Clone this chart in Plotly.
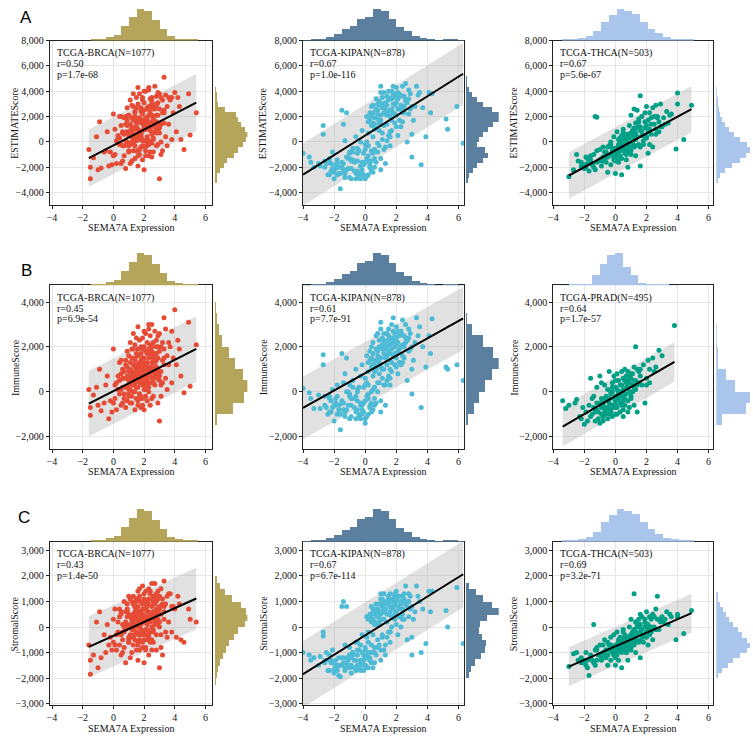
import plotly.graph_objects as go

W, H = 753, 741

# ---- SEMA7A expression per cohort (shared by the score rows) ----
brca_x = [-1.6, -1.5, -1.5, -1.3, -1.1, -0.9, -0.8, -0.6, -0.5, -0.3,
          -0.2, 0.0, 0.1, 0.2, 0.3, 0.4, 0.5, 0.5, 0.6, 0.7,
          0.7, 0.8, 0.8, 0.9, 0.9, 1.0, 1.0, 1.1, 1.1, 1.2,
          1.2, 1.2, 1.3, 1.3, 1.3, 1.4, 1.4, 1.4, 1.5, 1.5,
          1.5, 1.6, 1.6, 1.6, 1.7, 1.7, 1.7, 1.8, 1.8, 1.8,
          1.8, 1.9, 1.9, 1.9, 2.0, 2.0, 2.0, 2.0, 2.1, 2.1,
          2.1, 2.2, 2.2, 2.2, 2.3, 2.3, 2.3, 2.4, 2.4, 2.4,
          2.5, 2.5, 2.5, 2.6, 2.6, 2.7, 2.7, 2.8, 2.8, 2.9,
          2.9, 3.0, 3.0, 3.1, 3.2, 3.3, 3.3, 3.4, 3.5, 3.6,
          3.7, 3.8, 3.9, 4.0, 4.2, 4.4, 4.6, 4.9, 5.0, 5.4,
          0.3, 0.6, 0.9, 1.1, 1.3, 1.5, 1.6, 1.8, 1.9, 2.0,
          2.1, 2.2, 2.3, 2.5, 2.6, 2.8, 3.0, 3.2, 3.5, 4.1,
          0.0, 0.4, 1.0, 1.4, 1.7, 2.0, 2.4, 2.7, 3.1, 3.8,
          -1.0, 0.2, 0.8, 1.2, 1.6, 1.9, 2.2, 2.6, 2.9, 3.4,
          0.5, 0.7, 0.9, 1.0, 1.2, 1.3, 1.4, 1.5, 1.6, 1.7,
          1.8, 1.9, 2.0, 2.1, 2.2, 2.3, 2.4, 2.5, 2.6, 2.7,
          2.8, 2.9, 3.0, 3.1, 3.2, 0.6, 1.1, 1.5, 2.0, 2.4,
          0.8, 1.2, 1.7, 2.1, 2.5, 2.9, 3.3, 1.4, 1.9, 2.3,
          1.0, 1.3, 1.6, 1.8, 2.0, 2.2, 2.6, 2.8, 3.0, 3.6,
          -0.4, -0.1, 0.1, 0.4, 0.6, 1.1, 1.5, 2.1, 2.7, 4.3,
          1.0, 1.2, 1.4, 1.6, 1.8, 2.0, 2.2, 2.4, 2.6, 2.8,
          1.1, 1.3, 1.5, 1.7, 1.9, 2.1, 2.3, 2.5, 2.7, 3.0,
          0.5, 0.9, 1.3, 1.7, 2.1, 2.5, 2.9, 3.3, 1.5, 2.3,
          0.7, 1.0, 1.4, 1.8, 2.2, 2.6, 3.1, 1.2, 2.0, 2.8]
brca_estimate = [-600, -2000, -2900, -1250, 400, 1600, -2050, -800, -700, -1900,
                 -800, 2200, 1000, -1700, 500, 300, 2000, -1700, -300, 1900,
                 -1100, 1400, -2100, 1300, 2700, -800, 2100, 3300, -200, 400,
                 1900, -1500, 1100, 3800, -700, 1900, -1300, 500, 2700, 100,
                 500, 4300, 1000, -1900, 1900, 1700, -1000, 2500, 600, -400,
                 2400, -300, 3300, 100, 1200, 4000, -2200, 1500, 1700, -700,
                 1800, 2600, -300, 200, 4100, 2100, -1100, 2400, 2800, -800,
                 3500, -100, 3400, 1900, -800, 4400, 1500, -300, 3000, -200,
                 2100, -2900, 3800, 1400, -700, 5100, 2500, 3700, -300, 1400,
                 3300, 200, 2300, 3900, 3500, 200, -600, 3800, 550, 2300,
                 300, 800, 0, 900, 300, -700, 1800, 400, 1700, 100,
                 1000, 2700, 100, 2100, 2800, 700, 1200, 3300, 2800, 800,
                 -1100, -200, 2100, 2400, -600, 1700, 1100, 800, -1000, 3500,
                 -2200, 100, 100, 800, 400, 3500, 1700, 2700, 3900, 400,
                 1300, -300, 1700, -200, 0, 2800, 1000, 1900, -1100, 3800,
                 400, -1400, 3100, 1900, 0, 2800, 1200, -1200, 2700, 800,
                 3600, 1500, 2600, 3500, 2300, 700, -1700, 3500, 2500, 3400,
                 2000, 2900, 800, -1100, 1600, 3100, 1500, 2300, 900, 4300,
                 -700, -100, 3000, 2700, -400, 1300, 200, 2900, 700, 3500,
                 800, -1800, -1000, 2000, -1500, 600, 1500, 4000, 1200, 2800,
                 500, 1200, -300, 1600, 700, 100, 1900, 900, 300, 2100,
                 1400, 200, 1200, 200, 2200, 1000, 1500, 600, 2600, 1100,
                 -200, 800, 1700, -600, 1300, 3100, 900, 2300, 600, -200,
                 600, -300, 2000, 1500, 400, 1900, 0, 800, 1200, 1600]
brca_immune = [100, -700, -1050, -150, 200, 1000, -850, -500, 300, -1200,
               -400, 1900, 300, -800, 700, -100, 1400, -600, 200, 900,
               -300, 1200, -700, 600, 1800, -200, 900, 2200, 100, 500,
               1500, -500, 800, 2600, 0, 1100, -800, 400, 1700, -300,
               700, 2900, 200, -600, 1300, 500, -100, 2000, 900, -700,
               1400, 300, 2400, -300, 1000, 2700, -800, 600, 1800, 100,
               1100, 2200, -400, 700, 3000, 1500, 0, 1000, 2500, -600,
               1800, 400, 3000, 900, -200, 2700, 1300, 600, 2000, -500,
               1500, -1300, 2600, 900, 400, 3300, 1900, 2800, 100, 1200,
               2000, 400, 1500, 3650, 2300, 700, -50, 3100, 250, 2100,
               100, 1000, -400, 1300, 600, 200, 1600, -200, 1200, 400,
               600, 1700, 400, 1300, 2200, 1000, 500, 2200, 1600, 1200,
               -500, 500, 1600, 2100, -300, 1300, 1700, 300, -200, 2700,
               -600, 400, 200, 800, 1000, 1900, 900, 1500, 2500, 600,
               800, -100, 1100, 300, -200, 1900, 700, 1200, -400, 2300,
               500, -600, 2000, 1200, 300, 1900, 800, -300, 1600, 700,
               2300, 1000, 1800, 2000, 1400, 600, -500, 2400, 1500, 2100,
               1400, 1900, 800, -200, 1100, 2000, 1200, 1500, 700, 2800,
               -100, 300, 1900, 1700, 100, 1000, 400, 1700, 700, 2200,
               700, -900, -300, 1300, -500, 600, 1000, 2600, 900, 1900,
               500, 900, 0, 1100, 600, 300, 1300, 700, 400, 1400,
               1000, 300, 900, 400, 1500, 800, 1100, 600, 1700, 900,
               100, 700, 1200, -100, 1000, 2000, 800, 1500, 600, 200,
               600, 100, 1400, 1100, 500, 1300, 300, 700, 900, 1100]
brca_stromal = [-700, -1300, -1850, -1100, 200, 600, -1200, -300, -1000, -700,
                -400, 300, 700, -900, -200, 400, 600, -1100, -500, 1000,
                -800, 200, -1400, 700, 900, -600, 1200, 1100, -300, -100,
                400, -1000, 300, 1200, -700, 800, -500, 100, 1000, 400,
                -200, 1400, 800, -1300, 600, 1200, -900, 500, -300, 300,
                1000, -600, 900, 400, 200, 1300, -1400, 900, -100, -800,
                700, 400, 100, -500, 1100, 600, -1100, 1400, 300, -200,
                1700, -500, 400, 1000, -600, 1700, 200, -900, 1000, 300,
                600, -1600, 1200, 500, -1100, 1800, 600, 900, -400, 200,
                1300, -200, 800, 700, 1200, -500, -600, 700, 300, 200,
                200, -200, 400, -400, -300, -900, 200, 600, 500, -300,
                400, 1000, -300, 800, 600, -300, 700, 1100, 1200, -400,
                -600, -700, 500, 300, -300, 400, -600, 500, -800, 800,
                -1600, -300, -100, 0, -600, 1600, 800, 1200, 1400, -200,
                500, -200, 600, -500, 200, 900, 300, 700, -700, 1500,
                -100, -800, 1100, 700, -300, 900, 400, -900, 1100, 100,
                1300, 500, 800, 1500, 900, 100, -1200, 1100, 1000, 1300,
                600, 1000, 0, -900, 500, 1100, 300, 800, 200, 1500,
                -600, -400, 1100, 1000, -500, 300, -200, 1200, 0, 1300,
                100, -900, -700, 700, -1000, 0, 500, 1400, 300, 900,
                0, 300, -300, 500, 100, -200, 600, 200, -100, 700,
                400, -100, 300, -200, 700, 200, 400, 0, 900, 200,
                -300, 100, 500, -500, 300, 1100, 100, 800, 0, -400,
                0, -400, 600, 400, -100, 600, -300, 100, 300, 500]

kipan_x = [-4.0, -3.6, -3.5, -3.3, -3.0, -2.9, -2.7, -2.7, -2.6, -2.5,
           -2.4, -2.3, -2.2, -2.1, -2.0, -1.9, -1.8, -1.7, -1.6, -1.5,
           -1.4, -1.3, -1.2, -1.1, -1.0, -0.9, -0.8, -0.7, -0.6, -0.5,
           -0.4, -0.3, -0.2, -0.1, 0.0, 0.0, 0.1, 0.1, 0.2, 0.2,
           0.3, 0.3, 0.4, 0.4, 0.5, 0.5, 0.6, 0.6, 0.7, 0.7,
           0.8, 0.8, 0.9, 0.9, 1.0, 1.0, 1.0, 1.1, 1.1, 1.2,
           1.2, 1.3, 1.3, 1.4, 1.4, 1.5, 1.5, 1.6, 1.6, 1.7,
           1.7, 1.8, 1.8, 1.9, 1.9, 2.0, 2.0, 2.1, 2.1, 2.2,
           2.2, 2.3, 2.4, 2.5, 2.6, 2.7, 2.8, 2.9, 3.0, 3.1,
           3.2, 3.3, 3.6, 3.7, 3.9, 4.1, 4.3, 5.2, 5.9, 6.3,
           5.3, 4.2, 3.5, 3.0, 2.8, 2.4, 2.0, 1.6, 1.2, 0.8,
           -2.2, -1.8, -1.4, -1.0, -0.6, -0.2, 0.2, 0.6, 1.0, 1.4,
           -1.7, -1.1, -0.5, -0.1, 0.4, 0.9, 1.3, 1.7, 2.3, 2.7,
           -2.0, -1.3, -0.7, -0.3, 0.1, 0.5, 1.1, 1.5, 1.9, 2.5,
           0.2, 0.4, 0.6, 0.8, 1.0, 1.2, 1.4, 1.6, 1.8, 2.0,
           2.2, 2.4, 2.6, 0.3, 0.7, 1.1, 1.5, 1.9, 2.3, 2.8,
           -2.1, -1.9, -1.6, -1.2, -0.9, -0.6, -0.4, -0.1, 0.2, 0.5,
           -1.8, -1.4, -1.0, -0.8, -0.5, -0.3, 0.0, 0.3, 0.6, 0.9,
           0.5, 0.9, 1.3, 1.7, 2.1, 2.5, 3.0, 3.4, 1.0, 1.8,
           -2.6, -2.3, -1.5, -0.2, 0.1, 0.7, 1.2, 1.6, 2.4, 2.9,
           0.5, 0.8, 1.1, 1.4, 1.7, 2.0, 2.3, 1.0, 1.5, 2.1,
           0.6, 0.9, 1.2, 1.5, 1.8, 2.4, 0.4, 1.3, 1.9, 2.6,
           -1.5, -1.2, -0.9, -0.6, -0.3, 0.0, 0.3, -1.0, -0.4, 0.2,
           -2.3, -1.9, -1.3, -0.8, -0.2, 0.4, -0.5, 0.0, 0.8, 1.6]
kipan_estimate = [-900, -1200, -1600, -2000, -1700, -1900, 1300, 600, -1500, -1700,
                  -2600, -1300, -2300, -800, -2900, -1800, -1400, -2000, -3700, 2500,
                  1400, 100, 2300, -2100, -900, -2900, -500, -1600, 400, -2300,
                  -700, -1900, 900, -2600, -2900, -200, 2000, -1300, 700, -300,
                  2300, -1800, 1300, -700, 2900, 400, 1900, -1300, 3400, 1100,
                  2200, -100, 2900, 900, 3900, 1700, -1300, 2700, 200, 3000,
                  1300, 2200, -400, 3600, 1400, 2300, 500, 3400, 2000, 900,
                  3400, 2300, 4400, 1500, 2900, 4300, 2100, 3400, 500, 2600,
                  1700, 3700, 2500, 2800, 4600, 3100, 2200, 3800, -1200, 1700,
                  2800, 4400, -1800, 2700, 400, 3900, 3800, 1800, 2800, -100,
                  1000, 2300, 3900, 600, 3400, 4400, 1200, -300, 3000, 3000,
                  -1700, -2600, -1700, -800, -2900, -1600, -2600, -600, -2200, 100,
                  -2500, -1300, -500, -900, -2300, 1700, -1700, 4000, 1200, 0,
                  -2400, -2800, -2300, 0, 0, -2400, 700, 4000, 3600, 2300,
                  1600, 2800, 1000, 2500, 2100, 3900, 2900, 2500, 3500, 3100,
                  3700, 2300, 3200, 1800, 2600, 3500, 3400, 2200, 2900, 4100,
                  -2100, -1900, -2500, -1200, -2100, -1500, -2700, -1800, -1500, -900,
                  -1700, -2200, -2800, -800, -1500, -2900, -600, -2000, -2000, -300,
                  1500, 1500, 3100, 1700, 3900, 3600, 2800, 3700, 4400, 3700,
                  -2000, -2600, -1600, -2500, -2700, -1600, -600, 800, 1600, 2600,
                  2300, 1800, 3000, 2100, 2600, 3500, 3600, 1400, 3300, 2600,
                  1400, 3200, 2300, 3500, 3000, 2800, 2000, 2600, 3800, 3300,
                  -2000, -2200, -1500, -2500, -1900, -1600, -2000, -1300, -2500, -1100,
                  -1600, -2100, -2500, -1400, -2200, -1500, -900, -2700, -800, 400]
kipan_immune = [150, -50, -300, -750, -150, -750, 1650, 1200, -200, -700,
                -1000, -200, -900, 100, -1300, -500, 300, -800, -1700, 1700,
                400, 800, 1500, -600, -100, -1100, 500, -300, 1000, -800,
                200, -500, 1200, -900, -1400, 600, 1600, -200, 900, 300,
                1800, -600, 1100, 0, 2200, 700, 1400, -300, 2500, 1000,
                1600, 400, 2000, 800, 2800, 1200, -400, 1900, 600, 2300,
                1000, 1500, 300, 2600, 1200, 1800, 700, 2100, 1400, 900,
                2400, 1600, 3300, 1200, 2000, 2900, 1500, 2200, 800, 1900,
                1300, 2700, 2000, 1500, 3000, 2300, 1800, 2600, -100, 1400,
                2200, 3300, -700, 2000, 1100, 2500, 3250, 1100, 1200, 500,
                1000, 1700, 2900, 1000, 2400, 3200, 1100, 300, 2000, 2600,
                -400, -1000, -500, 300, -1200, -600, -1000, 200, -900, 500,
                -600, 0, 100, 200, -900, 1500, -600, 3000, 1200, 500,
                -600, -1100, -700, 700, 400, -800, 1000, 2800, 2300, 2000,
                1300, 2000, 900, 1800, 1500, 2600, 2000, 1700, 2400, 2100,
                2500, 1600, 2200, 1400, 1900, 2400, 2300, 1700, 2000, 2800,
                -700, -300, -1000, 0, -600, -200, -1100, -500, -300, 100,
                -200, -800, -1200, 200, -400, -1200, 300, -700, -600, 400,
                1200, 1300, 2200, 1300, 2700, 2500, 2000, 2500, 3100, 2700,
                -600, -900, -400, -1000, -1100, -500, 300, 1000, 1300, 1900,
                1700, 1400, 2100, 1600, 1900, 2400, 2600, 1100, 2300, 1800,
                1200, 2300, 1700, 2500, 2200, 2100, 1500, 1900, 2600, 2400,
                -500, -800, -300, -900, -600, -400, -700, -200, -1000, -100,
                -300, -600, -900, -300, -800, -500, 0, -1200, 0, 600]
kipan_stromal = [-1000, -1100, -1300, -1200, -1500, -1150, -350, -200, -1300, -1000,
                 -1700, -1100, -1400, -900, -1650, -1300, -1700, -1200, -1950, 800,
                 1000, -700, 800, -1500, -800, -1800, -1000, -1300, -600, -1500,
                 -900, -1400, -300, -1700, -1500, -800, 400, -1100, -200, -600,
                 500, -1200, 200, -700, 700, -300, 500, -1000, 900, 100,
                 600, -500, 900, 100, 1100, 500, -900, 800, -400, 700,
                 300, 700, -700, 1000, 200, 500, -200, 1300, 600, 0,
                 1000, 700, 1100, 300, 900, 1400, 600, 1200, -300, 700,
                 400, 1000, 500, 1300, 1600, 800, 400, 1200, -1100, 300,
                 600, 1600, -1000, 700, -650, 1400, 1400, 650, 1550, -650,
                 0, 600, 1000, -400, 1000, 1200, 100, -600, 1000, 400,
                 -1300, -1600, -1200, -1100, -1700, -1000, -1600, -800, -1300, -400,
                 -1900, -1300, -600, -1100, -1400, 200, -1100, 1000, 0, -500,
                 -1800, -1700, -1600, -700, -400, -1600, -300, 1200, 1300, 300,
                 300, 800, 100, 700, 600, 1300, 900, 800, 1100, 1000,
                 1200, 700, 1000, 400, 700, 1100, 1100, 500, 900, 1300,
                 -1400, -1600, -1500, -1200, -1500, -1300, -1600, -1300, -1200, -1000,
                 -1500, -1400, -1600, -1000, -1100, -1700, -900, -1300, -1400, -700,
                 300, 200, 900, 400, 1200, 1100, 800, 1200, 1300, 1000,
                 -1400, -1700, -1200, -1500, -1600, -1100, -900, -200, 300, 700,
                 600, 400, 900, 500, 700, 1100, 1000, 300, 1000, 800,
                 200, 900, 600, 1000, 800, 700, 500, 700, 1200, 900,
                 -1500, -1400, -1200, -1600, -1300, -1200, -1300, -1100, -1500, -1000,
                 -1300, -1500, -1600, -1100, -1400, -1000, -900, -1500, -800, -200]

thca_x = [-3.0, -2.7, -2.5, -2.4, -2.2, -2.0, -1.9, -1.8, -1.7, -1.6,
          -1.5, -1.4, -1.3, -1.3, -1.2, -1.1, -1.0, -0.9, -0.8, -0.7,
          -0.6, -0.5, -0.5, -0.4, -0.3, -0.3, -0.2, -0.1, -0.1, 0.0,
          0.0, 0.1, 0.1, 0.2, 0.2, 0.3, 0.3, 0.4, 0.4, 0.5,
          0.5, 0.6, 0.6, 0.7, 0.7, 0.8, 0.8, 0.9, 0.9, 1.0,
          1.0, 1.1, 1.1, 1.2, 1.2, 1.3, 1.3, 1.4, 1.4, 1.5,
          1.5, 1.6, 1.6, 1.7, 1.7, 1.8, 1.9, 2.0, 2.0, 2.1,
          2.1, 2.2, 2.3, 2.4, 2.5, 2.6, 2.7, 2.8, 2.9, 3.0,
          3.1, 3.2, 3.4, 3.6, 3.9, 4.0, 4.0, 4.4, 4.9, 2.4,
          -0.8, -0.2, 0.3, 0.7, 1.0, 1.3, 1.6, 1.9, 2.2, 2.6,
          -1.0, -0.6, -0.3, 0.0, 0.2, 0.4, 0.6, 0.8, 1.1, 1.4,
          1.7, 2.0, 2.3, 2.6, -1.6, -1.2, -0.9, -0.4, 0.1, 0.5,
          0.9, 1.2, 1.5, 1.8, 2.1, 2.5, 2.9, 3.3, -2.0, -1.4,
          -0.7, -0.1, 0.3, 0.7, 1.0, 1.3, 1.6, 0.0, 0.6, 1.9,
          -2.2, -1.8, -0.5, 0.2, 0.8, 1.2, 2.2, 2.8, 3.5, 0.4,
          -0.5, -0.2, 0.1, 0.4, 0.7, 1.0, 1.3, 1.6, -0.8, 0.2,
          -1.2, -0.9, -0.4, 0.0, 0.5, 0.9, 1.2, 1.8, 2.3, 0.6,
          -1.9, -1.5, -0.6, -0.1, 0.3, 0.8, 1.1, 1.5, 2.0, 2.7]
thca_estimate = [-2750, -2200, -1000, -1500, -1900, -2100, -1200, -1700, -2300, -1400,
                 -1800, -1000, 2000, -2200, 1950, -1500, -600, -1900, -1200, -800,
                 -1600, -400, -2400, -1100, 0, -1800, -700, 400, -1300, -500,
                 -2500, 800, -900, -300, -1600, 300, -1100, -2600, 500, -400,
                 1000, -600, 200, -1400, 600, -100, -2000, 1300, 300, -700,
                 2100, 0, 900, 2600, -400, 1500, -1100, 400, 2500, -200,
                 1200, 3650, -1900, 800, 2000, 100, 1600, 2800, 400, -900,
                 1700, 2300, 600, 2700, 1400, 2900, 2000, 800, 3000, 1200,
                 1900, 1400, 1500, 2200, -550, 3850, 3000, 200, 2900, -400,
                 -400, -1000, -700, 100, -1000, 700, -400, 1100, -200, 1000,
                 -1400, -900, -200, -1100, 200, -600, 400, -300, 600, 1100,
                 500, 1300, 1900, 600, -1100, -700, -1500, -300, -1400, 700,
                 -800, 1100, 1800, -200, 800, 2000, 1200, 2400, -1800, -2000,
                 -1300, -800, 0, -1000, 700, -300, 1200, -1500, -100, 2300,
                 -1600, -1300, -1200, -700, 600, 300, 1000, 1600, 2100, -1300,
                 -1200, -500, -1000, 100, -800, 600, 200, 900, -1500, -200,
                 -1600, -1300, -300, -900, -100, -600, 800, 500, 1400, -900,
                 -2000, -1700, -800, -1400, -300, 300, -300, 1600, 300, 1900]
thca_stromal = [-1550, -1050, -1000, -1300, -1200, -1400, -1000, -1600, -1900, -1100,
                -1300, 100, -900, -1500, -800, -1100, -700, -1300, -1000, -500,
                -1200, -600, -1500, -900, -400, -1300, -800, -300, -1100, -700,
                -1500, -200, -1000, -600, -1300, -400, -900, -1600, -500, -800,
                -100, -700, -300, -1000, -500, -600, -1300, 0, -400, -800,
                300, -500, -200, 1300, -700, 200, -1000, -300, 100, -600,
                0, 500, -1200, -100, 400, -300, 200, 600, -200, -700,
                100, 400, -200, 500, 0, 700, 1200, -100, 300, 400,
                200, 300, 100, 400, -500, 500, 400, -250, 650, -500,
                -700, -1000, -800, -400, -900, -200, -500, 0, -300, -100,
                -1100, -900, -700, -1000, -500, -800, -400, -600, -300, 0,
                -300, 100, 300, -100, -1200, -900, -1200, -700, -1100, -200,
                -900, -100, 300, -600, -100, 400, 200, 600, -1300, -1400,
                -1100, -900, -600, -1000, -300, -600, 100, -1200, -700, 300,
                -1400, -1300, -1100, -800, -400, -400, -100, 300, 500, -1000,
                -1100, -800, -900, -600, -800, -300, -500, -200, -1200, -700,
                -1300, -1100, -700, -900, -600, -700, -200, -400, 0, -900,
                -1500, -1300, -900, -1100, -600, -400, -600, 100, -400, 300]

prad_x = [-3.4, -3.2, -3.0, -2.6, -2.5, -2.3, -2.1, -2.0, -1.9, -1.8,
          -1.7, -1.6, -1.5, -1.4, -1.3, -1.2, -1.2, -1.1, -1.0, -1.0,
          -0.9, -0.8, -0.8, -0.7, -0.6, -0.6, -0.5, -0.5, -0.4, -0.4,
          -0.3, -0.3, -0.2, -0.2, -0.1, -0.1, 0.0, 0.0, 0.0, 0.1,
          0.1, 0.2, 0.2, 0.3, 0.3, 0.4, 0.4, 0.5, 0.5, 0.6,
          0.6, 0.7, 0.7, 0.8, 0.8, 0.9, 0.9, 1.0, 1.0, 1.1,
          1.1, 1.2, 1.2, 1.3, 1.3, 1.4, 1.4, 1.5, 1.6, 1.8,
          1.9, 2.0, 2.1, 2.2, 2.4, 2.6, 2.8, 3.0, 3.8, 2.2,
          -0.7, -0.2, 0.3, 0.6, 0.9, 1.2, -1.5, -0.9, 0.5, 1.7,
          -1.3, -0.9, -0.6, -0.3, -0.1, 0.2, 0.4, 0.7, 1.0, 1.3,
          -1.1, -0.7, -0.4, 0.0, 0.3, 0.6, 0.9, 1.2, 1.5, -0.2,
          -1.6, -1.2, -0.8, -0.5, -0.2, 0.1, 0.4, 0.8, 1.1, 1.4,
          -2.2, -1.4, -0.9, -0.4, 0.0, 0.5, 0.8, 1.6, 2.0, 2.5,
          -1.0, -0.7, -0.4, -0.1, 0.2, 0.5, 0.8, 1.1, -0.5, 0.3,
          -1.3, -0.8, -0.3, 0.1, 0.4, 0.7, 1.0, -0.6, 0.0, 0.6]
prad_immune = [-400, -750, -600, -500, -350, -1100, -700, -1450, -900, -1300,
               -600, 600, -1000, -700, -1300, 200, -500, -900, -1400, 700,
               -300, -1100, -600, 300, -800, -200, -1200, 100, -500, 900,
               -900, -100, 400, -600, -300, 700, -1000, 200, -400, 800,
               -700, 0, 500, -500, 300, -200, 900, -800, 100, 500,
               -300, 200, 700, -400, 900, 0, 400, 600, -200, 300,
               800, -600, 500, 2000, 100, 1000, -900, 400, 700, 1200,
               -500, 600, 1400, 400, 1500, 1100, 1850, 1600, 2950, 1000,
               -700, 0, -900, 1000, -700, 1100, -300, 400, -1100, 300,
               -800, -1000, -400, 0, -700, -300, 300, -100, 800, 500,
               -1200, -300, -800, -600, 0, -600, 700, 200, 900, -1100,
               -1100, -800, -1300, -700, 200, -1000, -500, 500, 0, 300,
               -1200, -200, -700, -1000, 500, 600, -900, 1000, 300, 900,
               -500, -900, -300, -600, -100, -400, 200, 0, -700, -500,
               -900, -500, -800, 100, -600, 400, -300, -1000, -200, -100]

# ---- marginal histograms: (bin start, bin width) and bar heights ----
brca_xbins, brca_xcounts = (-1.5, 0.5), [2, 4, 10, 15, 42, 68, 93, 88, 62, 35, 14, 6, 3, 2]
kipan_xbins, kipan_xcounts = (-4.0, 0.5), [1, 2, 5, 10, 18, 33, 42, 65, 70, 93, 88, 65, 40, 27, 13, 7, 2, 0.5, 2, 2, 1]
thca_xbins, thca_xcounts = (-3.4, 0.5), [2, 3, 8, 14, 28, 55, 75, 93, 88, 78, 55, 35, 22, 10, 6, 3, 2]
prad_xbins, prad_xcounts = (-3.5, 0.5), [1, 2, 4, 6, 31, 63, 90, 96, 56, 31, 8, 4, 3, 2, 1]

brca_est_bins, brca_est_counts = (-3200, 400), [3, 7, 14, 26, 35, 55, 68, 82, 90, 95, 86, 76, 66, 60, 30, 10, 6, 3, 1]
kipan_est_bins, kipan_est_counts = (-3200, 400), [6, 10, 20, 33, 52, 68, 58, 33, 40, 53, 68, 83, 100, 100, 78, 53, 35, 18, 8, 3, 1]
thca_est_bins, thca_est_counts = (-3200, 400), [5, 12, 28, 48, 72, 90, 100, 92, 70, 52, 38, 26, 18, 12, 8, 5, 3, 2, 1]
brca_imm_bins, brca_imm_counts = (-1500, 500), [4, 52, 85, 97, 82, 58, 40, 22, 12, 5, 2]
kipan_imm_bins, kipan_imm_counts = (-1500, 500), [4, 25, 40, 58, 78, 100, 82, 52, 18, 3]
prad_imm_bins, prad_imm_counts = (-1500, 500), [18, 88, 98, 55, 28, 5, 3, 1, 1]
brca_str_bins, brca_str_counts = (-2250, 250), [2, 4, 8, 14, 22, 32, 42, 55, 68, 88, 95, 90, 75, 50, 30, 15, 5]
kipan_str_bins, kipan_str_counts = (-2000, 250), [8, 14, 28, 46, 57, 60, 48, 40, 42, 62, 98, 78, 52, 30, 10]
thca_str_bins, thca_str_counts = (-2000, 200), [4, 16, 33, 48, 68, 88, 96, 88, 73, 63, 48, 38, 28, 20, 12, 6, 3]

# ---- regression line (x0, x1, y0, y1) and band half width per panel ----
fit_x0 = [-1.6, -4.0, -3.0, -1.6, -4.0, -3.4, -1.6, -4.0, -3.0]
fit_x1 = [5.4, 6.3, 4.9, 5.4, 6.3, 3.8, 5.4, 6.3, 4.9]
fit_y0 = [-1280, -2580, -2650, -530, -720, -1550, -780, -1850, -1550]
fit_y1 = [3100, 5380, 2590, 1910, 3270, 1330, 1115, 2065, 540]
band_half = [2250, 2450, 1830, 1460, 1400, 890, 1200, 1300, 760]

cohort_labels = ["TCGA-BRCA(N=1077)", "TCGA-KIPAN(N=878)", "TCGA-THCA(N=503)",
                 "TCGA-BRCA(N=1077)", "TCGA-KIPAN(N=878)", "TCGA-PRAD(N=495)",
                 "TCGA-BRCA(N=1077)", "TCGA-KIPAN(N=878)", "TCGA-THCA(N=503)"]
r_values = ["0.50", "0.67", "0.67", "0.45", "0.61", "0.64", "0.43", "0.67", "0.69"]
p_values = ["1.7e-68", "1.0e-116", "5.6e-67", "6.9e-54", "7.7e-91", "1.7e-57",
            "1.4e-50", "6.7e-114", "3.2e-71"]
row_titles = ["ESTIMATEScore", "ImmuneScore", "StromalScore"]
row_letters = ["A", "B", "C"]

RED, CYAN, GREEN = "#E64B35", "#4DBBD5", "#00A087"
OLIVE, STEEL, SKY = "#B5A55A", "#5B7F9E", "#A9C5EB"

panels = [
    (brca_x, brca_estimate, RED, OLIVE, brca_xbins, brca_xcounts, brca_est_bins, brca_est_counts),
    (kipan_x, kipan_estimate, CYAN, STEEL, kipan_xbins, kipan_xcounts, kipan_est_bins, kipan_est_counts),
    (thca_x, thca_estimate, GREEN, SKY, thca_xbins, thca_xcounts, thca_est_bins, thca_est_counts),
    (brca_x, brca_immune, RED, OLIVE, brca_xbins, brca_xcounts, brca_imm_bins, brca_imm_counts),
    (kipan_x, kipan_immune, CYAN, STEEL, kipan_xbins, kipan_xcounts, kipan_imm_bins, kipan_imm_counts),
    (prad_x, prad_immune, GREEN, SKY, prad_xbins, prad_xcounts, prad_imm_bins, prad_imm_counts),
    (brca_x, brca_stromal, RED, OLIVE, brca_xbins, brca_xcounts, brca_str_bins, brca_str_counts),
    (kipan_x, kipan_stromal, CYAN, STEEL, kipan_xbins, kipan_xcounts, kipan_str_bins, kipan_str_counts),
    (thca_x, thca_stromal, GREEN, SKY, thca_xbins, thca_xcounts, thca_str_bins, thca_str_counts),
]

# layout in pixels
box_left = [45, 300, 552]
box_right = [208, 462, 713]
rhist_span = [(211, 244), (464, 497), (716, 750)]
box_top = [35, 283, 543]
box_bot = [202, 449, 709]
thist_top = [3, 250, 510]
ytitle_x = [10, 260, 512]
x_ranges = [[-4.15, 6.4], [-4.0, 6.35], [-4.0, 6.3]]
y_ranges = [[-5000, 8000], [-2550, 4750], [-3070, 3340]]
y_dticks = [2000, 2000, 1000]

SERIF = "Liberation Serif"
TXT = "#111111"


def fx(p):
    return p / W


def fy(p):
    return 1 - p / H


def centers(bins, counts):
    start, width = bins
    return [start + width * (i + 0.5) for i in range(len(counts))]


def sfx(n):
    return "" if n == 1 else str(n)


fig = go.Figure()
layout = {}
annotations = []

for k, (xs, ys, pcol, hcol, xb, xc, yb, yc) in enumerate(panels):
    row, col = divmod(k, 3)
    n_sc, n_top, n_rt = 3 * k + 1, 3 * k + 2, 3 * k + 3
    xa, ya = "x" + sfx(n_sc), "y" + sfx(n_sc)

    x0, x1, y0, y1, hw = fit_x0[k], fit_x1[k], fit_y0[k], fit_y1[k], band_half[k]
    fig.add_trace(go.Scatter(x=[x0, x1, x1, x0, x0], y=[y0 + hw, y1 + hw, y1 - hw, y0 - hw, y0 + hw],
                             mode="lines", fill="toself", fillcolor="rgba(175,175,175,0.38)",
                             line=dict(width=0), hoverinfo="skip", xaxis=xa, yaxis=ya))
    fig.add_trace(go.Scatter(x=xs, y=ys, mode="markers",
                             marker=dict(color=pcol, size=5, line=dict(width=0)),
                             xaxis=xa, yaxis=ya))
    fig.add_trace(go.Scatter(x=[x0, x1], y=[y0, y1], mode="lines",
                             line=dict(color="black", width=2), xaxis=xa, yaxis=ya))

    fig.add_trace(go.Bar(x=centers(xb, xc), y=xc, width=xb[1], marker=dict(color=hcol, line=dict(width=0)),
                         xaxis="x" + str(n_top), yaxis="y" + str(n_top)))
    fig.add_trace(go.Bar(y=centers(yb, yc), x=yc, width=yb[1], orientation="h",
                         marker=dict(color=hcol, line=dict(width=0)),
                         xaxis="x" + str(n_rt), yaxis="y" + str(n_rt)))

    common = dict(showgrid=True, gridcolor="#E6E6E6", gridwidth=1, zeroline=False,
                  showline=True, linecolor="#222222", linewidth=1, mirror=True,
                  ticks="outside", ticklen=3, tickcolor="#222222",
                  tickfont=dict(family=SERIF, size=10, color=TXT))
    layout["xaxis" + sfx(n_sc)] = dict(common, domain=[fx(box_left[col]), fx(box_right[col])],
                                       range=x_ranges[col], anchor=ya, tick0=0, dtick=2)
    layout["yaxis" + sfx(n_sc)] = dict(common, domain=[fy(box_bot[row]), fy(box_top[row])],
                                       range=y_ranges[row], anchor=xa, tick0=0, dtick=y_dticks[row],
                                       tickformat=",")

    layout["xaxis" + str(n_top)] = dict(domain=[fx(box_left[col]), fx(box_right[col])], range=x_ranges[col],
                                        anchor="y" + str(n_top), visible=False)
    layout["yaxis" + str(n_top)] = dict(domain=[fy(box_top[row]), fy(thist_top[row])], range=[0, max(xc)],
                                        anchor="x" + str(n_top), visible=False)
    layout["xaxis" + str(n_rt)] = dict(domain=[fx(rhist_span[col][0]), fx(rhist_span[col][1])],
                                       range=[0, max(yc)], anchor="y" + str(n_rt), visible=False)
    layout["yaxis" + str(n_rt)] = dict(domain=[fy(box_bot[row]), fy(box_top[row])], range=y_ranges[row],
                                       anchor="x" + str(n_rt), visible=False)

    # axis titles
    annotations.append(dict(text="SEMA7A Expression", xref="paper", yref="paper",
                            x=fx((box_left[col] + box_right[col]) / 2), y=fy(box_bot[row] + 23),
                            xanchor="center", yanchor="middle", showarrow=False,
                            font=dict(family=SERIF, size=10, color=TXT)))
    annotations.append(dict(text=row_titles[row], xref="paper", yref="paper", textangle=-90,
                            x=fx(ytitle_x[col]), y=fy((box_top[row] + box_bot[row]) / 2),
                            xanchor="center", yanchor="middle", showarrow=False,
                            font=dict(family=SERIF, size=10, color=TXT)))

    texts = [cohort_labels[k], "r=" + r_values[k], "p=" + p_values[k]]
    for i, t in enumerate(texts):
        annotations.append(dict(text=t, xref="paper", yref="paper", x=fx(box_left[col] + 5),
                                y=fy(box_top[row] + 13 + 10.5 * i), xanchor="left", yanchor="middle",
                                showarrow=False, font=dict(family=SERIF, size=10, color=TXT)))

letter_pos = [(21, 12), (22, 268), (19, 518)]
for letter, (px, py) in zip(row_letters, letter_pos):
    annotations.append(dict(text=letter, xref="paper", yref="paper", x=fx(px), y=fy(py),
                            xanchor="center", yanchor="middle", showarrow=False,
                            font=dict(family="Liberation Sans", size=17, color="black")))

fig.update_layout(**layout)
fig.update_layout(width=W, height=H, margin=dict(l=0, r=0, t=0, b=0),
                  paper_bgcolor="white", plot_bgcolor="white", showlegend=False,
                  bargap=0, annotations=annotations)

fig.write_html("out.html", config={"displayModeBar": False},
               post_script="document.body.style.margin='0px';")
